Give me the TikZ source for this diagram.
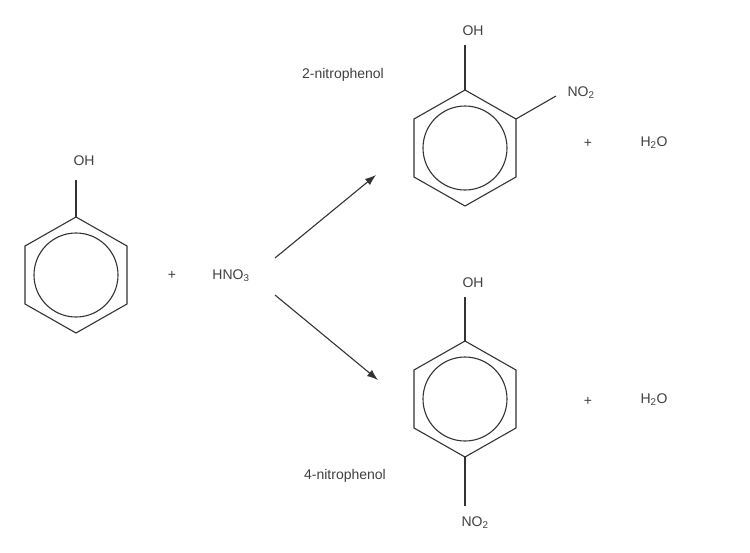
\documentclass[tikz,border=0pt]{standalone}
\usepackage{fontspec}
\setmainfont{Liberation Sans}
\usetikzlibrary{arrows.meta}
\begin{document}
\begin{tikzpicture}[x=1pt,y=-1pt,line width=1.1pt,
  bond/.style={draw=black!80},
  lbl/.style={text=black!75,font=\fontsize{14}{16}\selectfont,inner sep=1pt},
  arr/.style={draw=black!80,-{Latex[length=11pt,width=8pt]}}]
\useasboundingbox (0,0) rectangle (750,552);
\foreach \cx/\cy/\nm in {76/275/a,465/148/b,465/399/c}{
  \draw[bond] (\cx,\cy-58) -- (\cx+51,\cy-29) -- (\cx+51,\cy+29) -- (\cx,\cy+58) -- (\cx-51,\cy+29) -- (\cx-51,\cy-29) -- cycle;
  \draw[bond] (\cx,\cy) circle (42);
  \coordinate (\nm top) at (\cx,\cy-58);
  \coordinate (\nm bot) at (\cx,\cy+58);
  \coordinate (\nm ur) at (\cx+51,\cy-29);
}
\node[lbl] (oha) at (84,161) {OH};
\draw[bond] (atop) -- (76,180);
\node[lbl] (plus1) at (172,275) {+};
\node[lbl] (hno3) at (231,276) {HNO\textsubscript{3}};
\node[lbl] (ohb) at (473,31) {OH};
\draw[bond] (btop) -- (465,45);
\node[lbl] (no2b) at (581,93) {NO\textsubscript{2}};
\draw[bond] (bur) -- (556,96);
\node[lbl] (n2) at (343,75) {2-nitrophenol};
\node[lbl] (plus2) at (588,143) {+};
\node[lbl] (h2o1) at (654,143) {H\textsubscript{2}O};
\node[lbl] (ohc) at (473,283) {OH};
\draw[bond] (ctop) -- (465,297);
\node[lbl] (no2c) at (475,523) {NO\textsubscript{2}};
\draw[bond] (cbot) -- (465,506);
\node[lbl] (n4) at (345,476) {4-nitrophenol};
\node[lbl] (plus3) at (588,401) {+};
\node[lbl] (h2o2) at (654,400) {H\textsubscript{2}O};
\coordinate (s1) at (275,258); \coordinate (e1) at (376,175);
\coordinate (s2) at (275,295); \coordinate (e2) at (378,380);
\draw[arr] (s1) -- (e1);
\draw[arr] (s2) -- (e2);
\end{tikzpicture}
\end{document}
